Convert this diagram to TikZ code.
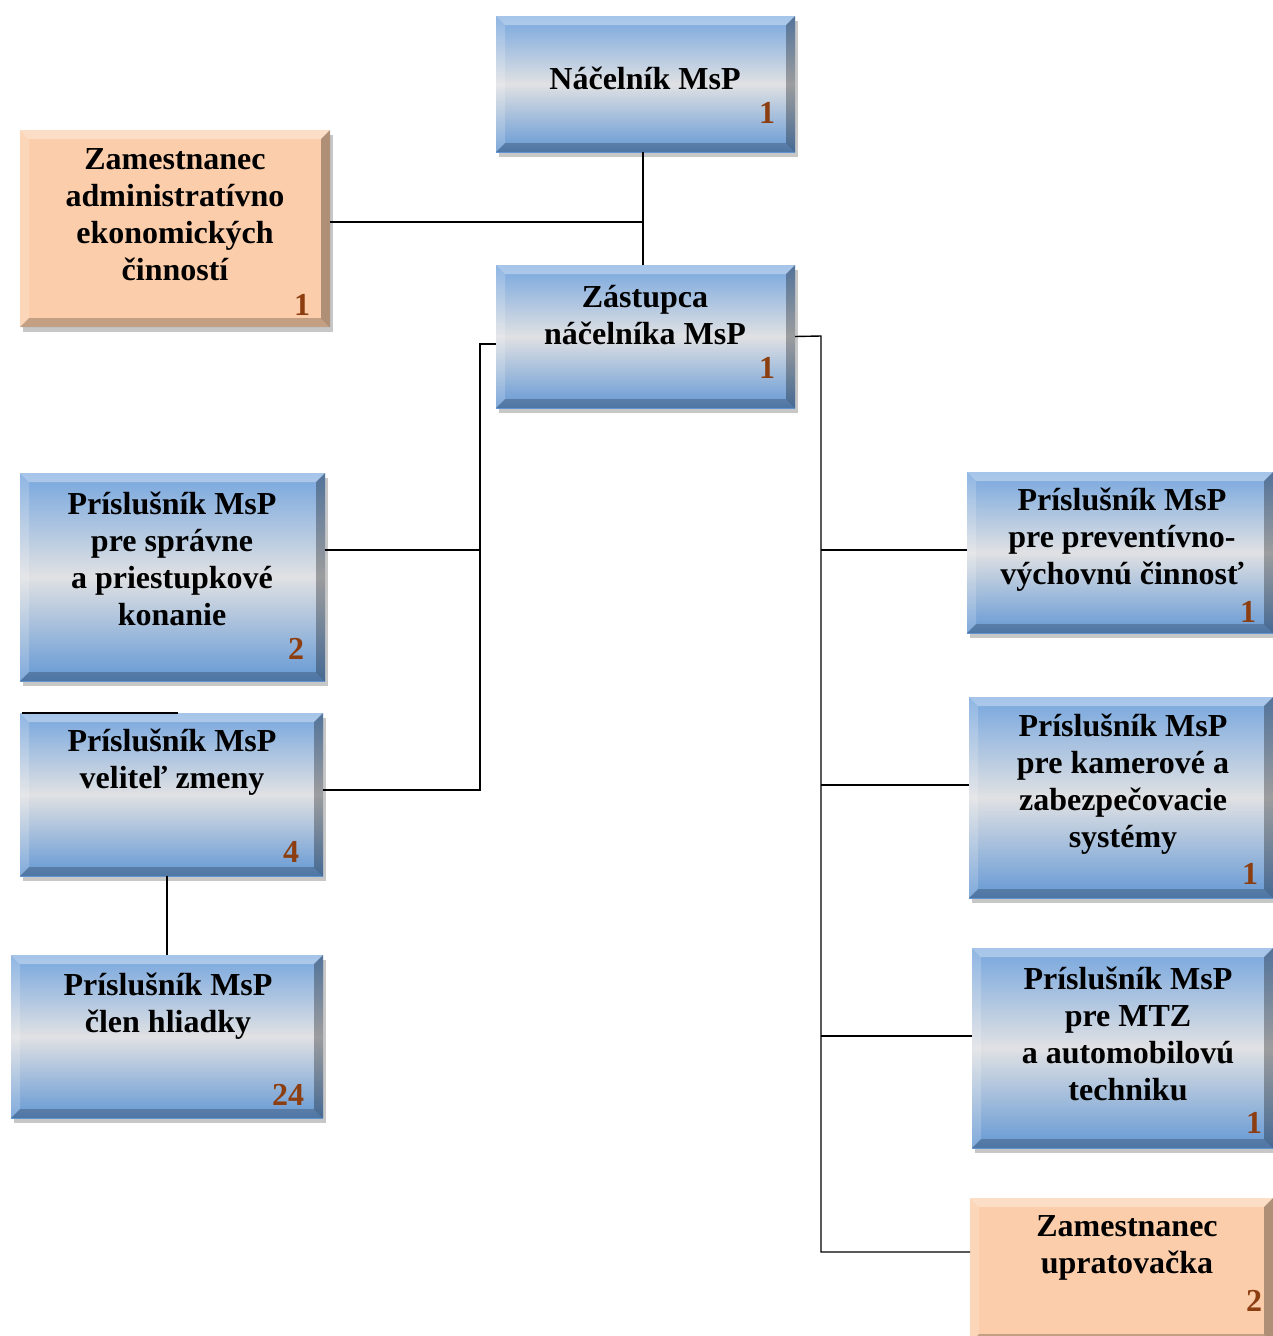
\documentclass[tikz,border=0pt]{standalone}
\usepackage{fontspec}
\setmainfont{Liberation Serif}
\usetikzlibrary{calc,shadows}
\definecolor{bluetop}{RGB}{118,166,222}
\definecolor{bluemid}{RGB}{224,225,227}
\definecolor{bluebot}{RGB}{100,152,212}
\definecolor{peach}{RGB}{251,205,170}
\definecolor{numcol}{RGB}{140,62,16}
\begin{document}
\begin{tikzpicture}[x=1pt,y=-1pt,
  bevelshapes/.style={path picture={
    \ifx\boxshade\relax\else
    \shade[top color=bluetop, bottom color=bluebot, middle color=bluemid] (path picture bounding box.south west) rectangle (path picture bounding box.north east);
    \fi
    \fill[white,opacity=.35] (path picture bounding box.north west) -- (path picture bounding box.north east) -- ($(path picture bounding box.north east)+(-9,9)$) -- ($(path picture bounding box.north west)+(9,9)$) -- cycle;
    \fill[white,opacity=.18] (path picture bounding box.north west) -- ($(path picture bounding box.north west)+(9,9)$) -- ($(path picture bounding box.south west)+(9,-9)$) -- (path picture bounding box.south west) -- cycle;
    \fill[black,opacity=.30] (path picture bounding box.north east) -- (path picture bounding box.south east) -- ($(path picture bounding box.south east)+(-9,-9)$) -- ($(path picture bounding box.north east)+(-9,9)$) -- cycle;
    \fill[black,opacity=.22] (path picture bounding box.south west) -- ($(path picture bounding box.south west)+(9,-9)$) -- ($(path picture bounding box.south east)+(-9,-9)$) -- (path picture bounding box.south east) -- cycle;
  }},
  boxbase/.style={rectangle, inner sep=0pt, outer sep=0pt,
    drop shadow={shadow xshift=3pt, shadow yshift=-5pt, opacity=.4, fill=black!55}},
  bluebox/.style={boxbase, fill=bluemid, bevelshapes},
  peachbox/.style={boxbase, fill=peach, bevelshapes},
  txt/.style={align=center, inner sep=0pt, font=\fontsize{32}{37}\selectfont\bfseries},
  num/.style={inner sep=0pt, text=numcol, font=\fontsize{32}{37}\selectfont\bfseries},
  conn/.style={line width=1.4pt, black}
]
\useasboundingbox (0,0) rectangle (1273,1336);

% boxes
\def\boxshade{1}
\node[bluebox, minimum width=299pt, minimum height=136pt] (nac) at (645.5,84) {};
\node[bluebox, minimum width=299pt, minimum height=143pt] (zas) at (645.5,336.5) {};
\node[bluebox, minimum width=305pt, minimum height=208pt] (spr) at (172.5,577) {};
\node[bluebox, minimum width=303pt, minimum height=163pt] (vel) at (171.5,794.5) {};
\node[bluebox, minimum width=312pt, minimum height=163pt] (cle) at (167,1036.5) {};
\node[bluebox, minimum width=306pt, minimum height=161pt] (pre) at (1120,552.5) {};
\node[bluebox, minimum width=304pt, minimum height=201pt] (kam) at (1121,797.5) {};
\node[bluebox, minimum width=301pt, minimum height=200pt] (mtz) at (1122.5,1048) {};
\let\boxshade\relax
\node[peachbox, minimum width=310pt, minimum height=197pt] (adm) at (175,228.5) {};
\node[peachbox, minimum width=303pt, minimum height=145pt] (upr) at (1121.5,1270.5) {};

% texts
\node[txt] (tnac) at (645,78) {Náčelník MsP};
\node[txt] (tadm) at (175,215) {Zamestnanec\\administratívno\\ekonomických\\činností};
\node[txt] (tzas) at (645,315) {Zástupca\\náčelníka MsP};
\node[txt] (tspr) at (172,559) {Príslušník MsP\\pre správne\\a priestupkové\\konanie};
\node[txt] (tvel) at (172,762) {Príslušník MsP\\veliteľ zmeny};
\node[txt] (tcle) at (168,1006) {Príslušník MsP\\člen hliadky};
\node[txt] (tpre) at (1122,540) {Príslušník MsP\\pre preventívno-\\výchovnú činnosť};
\node[txt] (tkam) at (1123,784) {Príslušník MsP\\pre kamerové a\\zabezpečovacie\\systémy};
\node[txt] (tmtz) at (1128,1034) {Príslušník MsP\\pre MTZ\\a automobilovú\\techniku};
\node[txt] (tupr) at (1127,1248) {Zamestnanec\\upratovačka};

% numbers
\node[num] (nnac) at (767,113) {1};
\node[num] (nadm) at (302,305) {1};
\node[num] (nzas) at (767,368) {1};
\node[num] (nspr) at (296,649) {2};
\node[num] (nvel) at (291,852) {4};
\node[num] (ncle) at (288,1095) {24};
\node[num] (npre) at (1248,612) {1};
\node[num] (nkam) at (1250,874) {1};
\node[num] (nmtz) at (1254,1123) {1};
\node[num] (nupr) at (1254,1301) {2};

% connector coordinates
\coordinate (A) at (643,222);
\coordinate (Ltop) at (480,344);
\coordinate (Lmid) at (480,550);
\coordinate (Lbot) at (480,790);
\coordinate (Rtop) at (821,336);
\coordinate (R1) at (821,550);
\coordinate (R2) at (821,785);
\coordinate (R3) at (821,1036);
\coordinate (R4) at (821,1252);
\coordinate (S1) at (22,713);
\coordinate (S2) at (178,713);

% connectors
\draw[conn] (nac.south -| A) -- (zas.north -| A);
\draw[conn] (adm.east |- A) -- (A);
\draw[conn] (zas.west |- Ltop) -- (Ltop) -- (Lbot) -- (vel.east |- Lbot);
\draw[conn] (spr.east |- Lmid) -- (Lmid);
\draw[conn] (zas.east) -- (Rtop) -- (R4) -- (upr.west |- R4);
\draw[conn] (R1) -- (pre.west |- R1);
\draw[conn] (R2) -- (kam.west |- R2);
\draw[conn] (R3) -- (mtz.west |- R3);
\draw[conn] (cle.north |- vel.south) -- (cle.north);
\draw[conn] (S1) -- (S2);
\end{tikzpicture}
\end{document}
